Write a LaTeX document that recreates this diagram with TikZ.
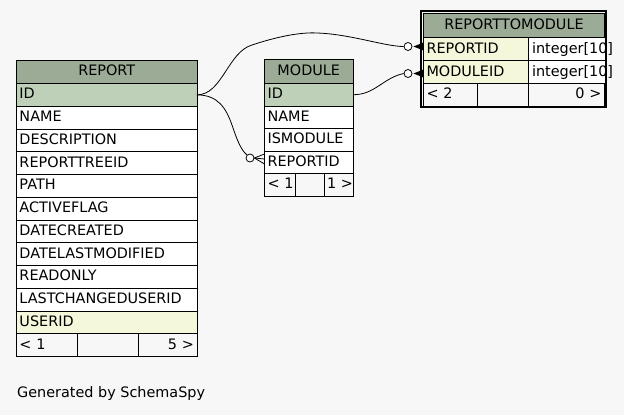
\documentclass[tikz,border=0pt]{standalone}
\usepackage{fontspec}
\setmainfont{DejaVu Sans}
\usetikzlibrary{calc}
\definecolor{bg}{HTML}{F7F7F7}
\definecolor{hdr}{HTML}{9BAB96}
\definecolor{pk}{HTML}{BED1B8}
\definecolor{fk}{HTML}{F4F7DA}
\tikzset{
  cellbase/.style={draw=black, line width=0.8pt, anchor=north west, inner xsep=3pt, inner ysep=0pt, outer sep=0pt,
    text height=10.5pt, text depth=2.5pt, font=\fontsize{14.4}{16}\selectfont},
  hdrcell/.style={fill=hdr, align=center},
  plaincell/.style={fill=white, align=left},
  pkcell/.style={fill=pk, align=left},
  fkcell/.style={fill=fk, align=left},
  footl/.style={fill=bg, align=left},
  footr/.style={fill=bg, align=right},
  rel/.style={draw=black, line width=0.8pt},
  optcirc/.style={circle, draw=black, fill=white, line width=0.8pt, minimum size=8pt, inner sep=0pt},
}
\newcommand\tcell[7]{%
  \pgfmathsetmacro\tcw{#4-6}%
  \node[cellbase, #6, minimum width=#4pt, text width=\tcw pt, minimum height=#5pt] (#1) at (#2,#3) {\mbox{#7}};%
}
\begin{document}
\begin{tikzpicture}[x=1pt,y=-1pt]
\fill[bg] (0,0) rectangle (624,415);
\useasboundingbox (0,0) rectangle (624,415);

% REPORT
\tcell{rhead}{16.5}{60}{180.5}{23.5}{hdrcell}{REPORT}
\tcell{rid}{16.5}{83.5}{180.5}{22.75}{pkcell}{ID}
\tcell{rname}{16.5}{106.25}{180.5}{22.75}{plaincell}{NAME}
\tcell{rdesc}{16.5}{129}{180.5}{22.75}{plaincell}{DESCRIPTION}
\tcell{rtree}{16.5}{151.75}{180.5}{22.75}{plaincell}{REPORTTREEID}
\tcell{rpath}{16.5}{174.5}{180.5}{22.75}{plaincell}{PATH}
\tcell{ract}{16.5}{197.25}{180.5}{22.75}{plaincell}{ACTIVEFLAG}
\tcell{rdc}{16.5}{220}{180.5}{22.75}{plaincell}{DATECREATED}
\tcell{rdlm}{16.5}{242.75}{180.5}{22.75}{plaincell}{DATELASTMODIFIED}
\tcell{rro}{16.5}{265.5}{180.5}{22.75}{plaincell}{READONLY}
\tcell{rlcu}{16.5}{288.25}{180.5}{22.75}{plaincell}{LASTCHANGEDUSERID}
\tcell{ruid}{16.5}{311}{180.5}{22.75}{fkcell}{USERID}
\tcell{rf1}{16.5}{333.75}{60.5}{22.5}{footl}{< 1}
\tcell{rf2}{77}{333.75}{61}{22.5}{footl}{}
\tcell{rf3}{138}{333.75}{59}{22.5}{footr, inner xsep=1.5pt}{5 >}

% MODULE
\tcell{mhead}{264.5}{59.5}{88.5}{24}{hdrcell}{MODULE}
\tcell{mid}{264.5}{83.5}{88.5}{22.5}{pkcell}{ID}
\tcell{mname}{264.5}{106}{88.5}{22.5}{plaincell}{NAME}
\tcell{mism}{264.5}{128.5}{88.5}{22.5}{plaincell}{ISMODULE}
\tcell{mrep}{264.5}{151}{88.5}{22.5}{plaincell}{REPORTID}
\tcell{mf1}{264.5}{173.5}{30.5}{22.5}{footl, inner xsep=1pt}{< 1}
\tcell{mf2}{295}{173.5}{29}{22.5}{footl}{}
\tcell{mf3}{324}{173.5}{29}{22.5}{footr, inner xsep=1pt}{1 >}

% REPORTTOMODULE
\tcell{thead}{423.5}{13.5}{181}{24}{hdrcell}{REPORTTOMODULE}
\tcell{trep}{423.5}{37.5}{104.5}{23}{fkcell}{REPORTID}
\tcell{trept}{528}{37.5}{76.5}{23}{plaincell, inner xsep=4pt}{integer[10]}
\tcell{tmod}{423.5}{60.5}{104.5}{23}{fkcell}{MODULEID}
\tcell{tmodt}{528}{60.5}{76.5}{23}{plaincell, inner xsep=4pt}{integer[10]}
\tcell{tf1}{423.5}{83.5}{53.5}{22.5}{footl}{< 2}
\tcell{tf2}{477}{83.5}{51}{22.5}{footl}{}
\tcell{tf3}{528}{83.5}{76.5}{22.5}{footr, inner xsep=1.5pt}{0 >}
\draw[line width=2.3pt] (421.2,11.2) rectangle (606.3,107.3);

% optional-end circles
\node[optcirc] (c1) at (408,46.5) {};
\node[optcirc] (c2) at (408,73.5) {};
\node[optcirc] (c3) at (250,158) {};

% connectors
\draw[rel] (rid.east) .. controls (222,95) and (228,52) .. (252,45)
  .. controls (276,37) and (300,32) .. (317,33)
  .. controls (350,34) and (385,46.5) .. (c1.west);
\draw[rel] (rid.east) .. controls (218,95) and (226,108) .. (232,125)
  .. controls (237,140) and (241,150) .. (c3.north west);
\draw[rel] (mid.east) .. controls (375,94.75) and (383,78) .. (c2.west);

% crow's feet
\fill ($(c1.east)+(1,0)$) -- ($(c1.east -| trep.west)+(0,-4)$) -- ($(c1.east -| trep.west)+(0,4)$) -- cycle;
\fill ($(c2.east)+(1,0)$) -- ($(c2.east -| tmod.west)+(0,-4)$) -- ($(c2.east -| tmod.west)+(0,4)$) -- cycle;
\draw[rel] (c3.east) -- ($(c3.east -| mrep.west)+(0,-4)$);
\draw[rel] (c3.east) -- ($(c3.east -| mrep.west)+(0,1)$);
\draw[rel] (c3.east) -- ($(c3.east -| mrep.west)+(0,6)$);

\node[anchor=base west, inner sep=0pt, font=\fontsize{14.4}{16}\selectfont] (gen) at (17,397) {Generated by SchemaSpy};
\end{tikzpicture}
\end{document}
